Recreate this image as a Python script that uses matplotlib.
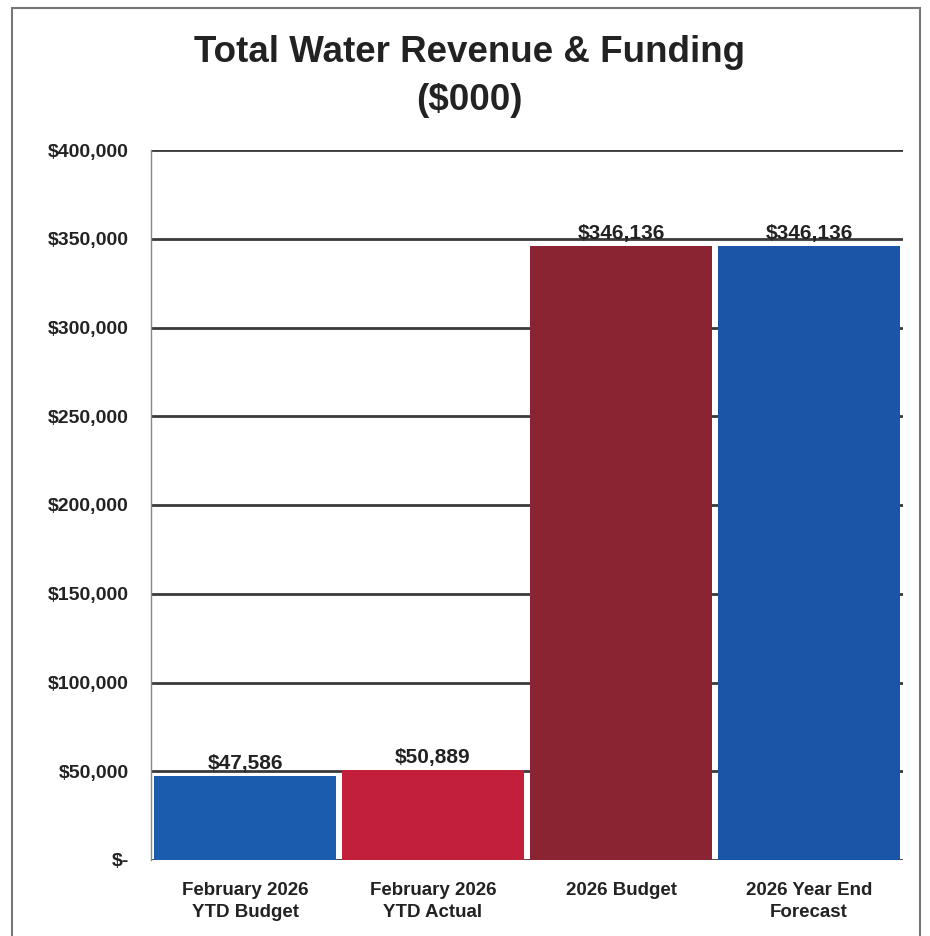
import matplotlib.pyplot as plt
from matplotlib.patches import Rectangle
from matplotlib.ticker import FuncFormatter

categories = ["February 2026\nYTD Budget", "February 2026\nYTD Actual", "2026 Budget", "2026 Year End\nForecast"]
values = [47586, 50889, 346136, 346136]
colors = ["#1c5cae", "#c2203a", "#8a2332", "#1a55a8"]
yticks = [0, 50000, 100000, 150000, 200000, 250000, 300000, 350000, 400000]

plt.rcParams["font.family"] = ["Liberation Sans Narrow", "Liberation Sans", "DejaVu Sans"]

fig = plt.figure(figsize=(9.30, 9.36), dpi=100)
ax = fig.add_axes([151 / 930, 1 - 860 / 936, 752 / 930, 710 / 936])

x = range(len(categories))
bars = ax.bar(x, values, width=0.97, color=colors, zorder=3)
ax.set_xlim(-0.5, len(categories) - 0.5)
ax.set_ylim(0, 400000)
ax.set_yticks(yticks)
ax.yaxis.set_major_formatter(FuncFormatter(lambda v, p: "$-" if v == 0 else f"${v:,.0f}"))
ax.set_xticks(list(x))
ax.set_xticklabels(categories, fontsize=13.5, fontweight="bold", color="#222222", linespacing=1.35)
for lab in ax.get_yticklabels():
    lab.set_fontsize(14)
    lab.set_fontweight("bold")
    lab.set_color("#222222")
ax.tick_params(axis="both", length=0)
ax.tick_params(axis="y", pad=16)
ax.tick_params(axis="x", pad=16)

ax.grid(axis="y", color="#3a3a3a", linewidth=2, zorder=1)
for s in ["top", "right", "bottom"]:
    ax.spines[s].set_visible(False)
ax.spines["left"].set_color("#888888")
ax.spines["left"].set_linewidth(1)

for b, v in zip(bars, values):
    ax.text(b.get_x() + b.get_width() / 2, v + 1500, f"${v:,.0f}",
            ha="center", va="bottom", fontsize=15, fontweight="bold", color="#222222", zorder=4)

fig.text(0.505, 1 - 52 / 936, "Total Water Revenue & Funding", ha="center", va="center",
         fontsize=26.5, fontweight="bold", color="#222222")
fig.text(0.505, 1 - 100 / 936, "($000)", ha="center", va="center",
         fontsize=26.5, fontweight="bold", color="#222222")

fig.patches.append(Rectangle((12 / 930, -0.01), 908 / 930, 1 - 8 / 936 + 0.01,
                             transform=fig.transFigure, fill=False, edgecolor="#777777", linewidth=1.5))

fig.savefig("out.png", dpi=100)
